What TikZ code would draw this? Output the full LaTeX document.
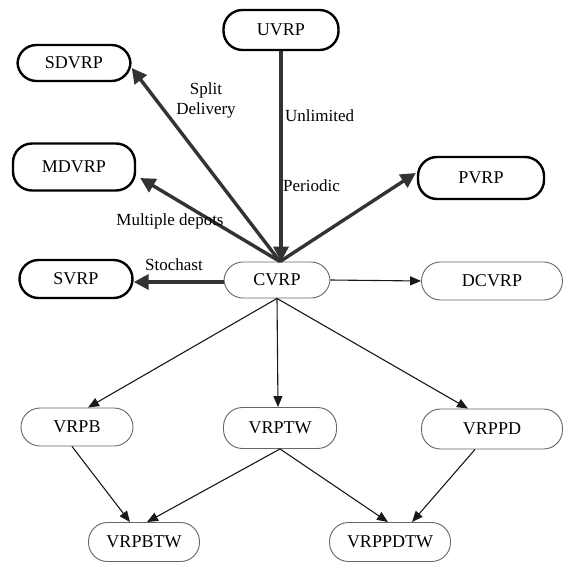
\documentclass[tikz,border=0pt]{standalone}
\usepackage{fontspec}
\setmainfont{Liberation Serif}
\usetikzlibrary{arrows.meta}
\begin{document}
\begin{tikzpicture}[x=1pt,y=-1pt,
  boldbox/.style={draw=black,line width=2.4pt,rounded corners=19pt,inner sep=0pt,font=\fontsize{18}{20}\selectfont},
  thinbox/.style={draw=black!60,line width=0.9pt,rounded corners=19pt,inner sep=0pt,font=\fontsize{18}{20}\selectfont},
  thickarrow/.style={draw=black!80,line width=3.4pt,-{Triangle[length=15pt,width=15pt]}},
  thinarrow/.style={draw=black!90,line width=1.1pt,-{Triangle[length=11pt,width=9pt]}},
  lbl/.style={font=\fontsize{17}{20}\selectfont,inner sep=0pt}]
\useasboundingbox[fill=white] (0,0) rectangle (564,562);
% nodes
\node[boldbox,minimum width=115pt,minimum height=40pt] (uvrp) at (281,30) {UVRP};
\node[boldbox,minimum width=113pt,minimum height=36pt] (sdvrp) at (74,63) {SDVRP};
\node[boldbox,minimum width=122pt,minimum height=47pt] (mdvrp) at (74,167) {MDVRP};
\node[boldbox,minimum width=126pt,minimum height=42pt] (pvrp) at (481,178) {PVRP};
\node[boldbox,minimum width=113pt,minimum height=38pt] (svrp) at (76,279) {SVRP};
\node[thinbox,minimum width=106pt,minimum height=36pt] (cvrp) at (277,280) {CVRP};
\node[thinbox,minimum width=141pt,minimum height=38pt] (dcvrp) at (492,281) {DCVRP};
\node[thinbox,minimum width=112pt,minimum height=38pt] (vrpb) at (77,427) {VRPB};
\node[thinbox,minimum width=113pt,minimum height=41pt] (vrptw) at (280,428) {VRPTW};
\node[thinbox,minimum width=141pt,minimum height=40pt] (vrppd) at (492,429) {VRPPD};
\node[thinbox,minimum width=111pt,minimum height=39pt] (vrpbtw) at (144,542) {VRPBTW};
\node[thinbox,minimum width=121pt,minimum height=39pt] (vrppdtw) at (390,542) {VRPPDTW};
% thick arrows
\coordinate (apex) at ([xshift=3pt]cvrp.north);
\draw[thickarrow] (uvrp.south) -- (uvrp.south |- apex);
\draw[thickarrow] (apex) -- ([yshift=-5pt]sdvrp.east);
\draw[thickarrow] (apex) -- ([xshift=4pt,yshift=-11pt]mdvrp.east);
\draw[thickarrow] (apex) -- ([xshift=-1pt,yshift=5pt]pvrp.west);
\draw[thickarrow] ([yshift=-2pt]cvrp.west) -- ([yshift=-3pt]svrp.east);
% labels
\node[lbl,align=center] (lsplit) at (206,100) {Split\\Delivery};
\node[lbl,anchor=west] (lunl) at (285,116) {Unlimited};
\node[lbl,anchor=west] (lper) at (283,186) {Periodic};
\node[lbl] (lmult) at (170,221) {Multiple depots};
\node[lbl] (lsto) at (174,265) {Stochast};
% thin arrows
\draw[thinarrow] (cvrp.east) -- (dcvrp.west);
\draw[thinarrow] (cvrp.south) -- ([xshift=11pt]vrpb.north);
\draw[thinarrow] (cvrp.south) -- ([xshift=-2pt]vrptw.north);
\draw[thinarrow] (cvrp.south) -- ([xshift=-24pt]vrppd.north);
\draw[thinarrow] ([xshift=-5pt]vrpb.south) -- ([xshift=-14pt]vrpbtw.north);
\draw[thinarrow] (vrptw.south) -- ([xshift=3pt]vrpbtw.north);
\draw[thinarrow] (vrptw.south) -- ([xshift=-2pt]vrppdtw.north);
\draw[thinarrow] ([xshift=-17pt]vrppd.south) -- ([xshift=22pt]vrppdtw.north);
\end{tikzpicture}
\end{document}
